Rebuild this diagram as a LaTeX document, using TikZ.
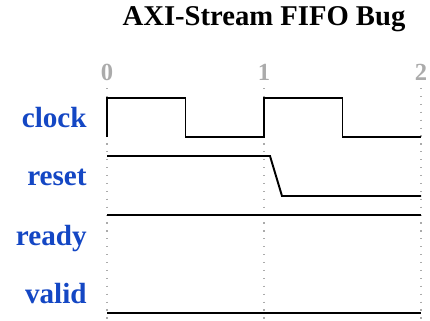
\documentclass[tikz,border=0pt]{standalone}
\usepackage{fontspec}
\setmainfont{Liberation Serif}
\definecolor{SigBlue}{HTML}{1447C4}
\definecolor{TickGray}{HTML}{ABABAB}

\begin{document}
\begin{tikzpicture}[
    x=1cm,
    y=1cm,
    title/.style={anchor=base, inner sep=0pt,
                  font=\fontsize{16.3}{19}\selectfont\bfseries},
    signame/.style={anchor=base east, inner sep=0pt, text=SigBlue,
                    font=\fontsize{16.6}{19}\selectfont\bfseries},
    tickno/.style={anchor=base, inner sep=0pt, text=TickGray,
                   font=\fontsize{14}{16}\selectfont\bfseries},
    gridline/.style={draw=TickGray, line width=0.7pt,
                     dash pattern=on 0.7pt off 3.8pt},
    wave/.style={draw=black, line width=1.1pt, line join=miter}
]
\useasboundingbox (0,0) rectangle (8.6,6.4);

\node[title] (heading) at (5.28,5.90) {AXI-Stream FIFO Bug};

% Cycle boundaries with their numbers.
\foreach \t/\x in {0/2.14,1/5.28,2/8.42} {
    \draw[gridline] (\x,4.64) -- (\x,0);
    \node[tickno] (cycle\t) at (\x,4.80) {\t};
}

\node[signame] (clock) at (1.74,3.86) {clock};
\node[signame] (reset) at (1.74,2.70) {reset};
\node[signame] (ready) at (1.74,1.50) {ready};
\node[signame] (valid) at (1.74,0.34) {valid};

% Waveforms, one per signal.
\draw[wave] (2.14,3.66) -- (2.14,4.44) -- (3.71,4.44) -- (3.71,3.66)
            -- (5.28,3.66) -- (5.28,4.44) -- (6.85,4.44) -- (6.85,3.66)
            -- (8.42,3.66);
\draw[wave] (2.14,3.28) -- (5.40,3.28) -- (5.64,2.48) -- (8.42,2.48);
\draw[wave] (2.14,2.10) -- (8.42,2.10);
\draw[wave] (2.14,0.14) -- (8.42,0.14);
\end{tikzpicture}
\end{document}
